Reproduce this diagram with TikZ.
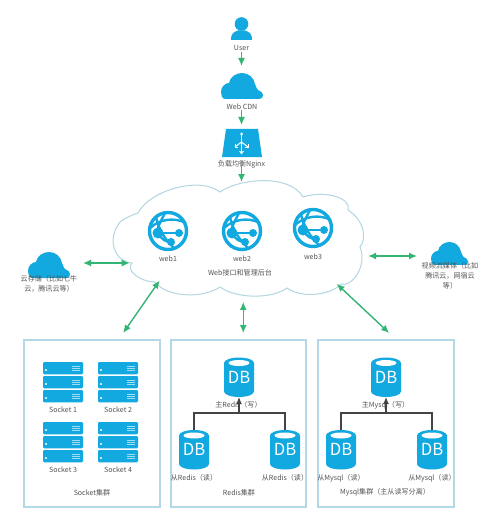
\documentclass[tikz,border=0pt]{standalone}
\usepackage{fontspec}
\setmainfont{Noto Sans CJK SC}
\usetikzlibrary{arrows.meta,shapes.geometric}
\definecolor{iconblue}{HTML}{12A8E0}
\definecolor{arrowgreen}{HTML}{33B573}
\definecolor{frameblue}{HTML}{B4D8E8}
\definecolor{cloudline}{HTML}{B2D6E2}
\definecolor{labelgrey}{HTML}{555555}
\definecolor{linkgrey}{HTML}{444444}
\def\px{0.75pt}
\tikzset{
  hit/.style={draw=none,fill=none,inner sep=0pt,outer sep=0pt},
  lbl/.style={text=labelgrey,font=\fontsize{5.3}{7.3}\selectfont,inner sep=0pt,align=center},
  oneway/.style={draw=arrowgreen,line width=1.4*\px,-{Latex[length=8*\px,width=7*\px]}},
  twoway/.style={draw=arrowgreen,line width=1.4*\px,{Latex[length=8*\px,width=7*\px]}-{Latex[length=8*\px,width=7*\px]}},
  frame/.style={draw=frameblue,line width=1.2*\px,inner sep=0pt,outer sep=7*\px},
  tree/.style={draw=linkgrey,line width=1.2*\px},
  treeup/.style={draw=linkgrey,line width=1.2*\px,-{Latex[length=7*\px,width=6*\px]}},
}
% cloud icon: #1,#2 top-left, #3 scale (1 = 42 x 26 px)
\newcommand\cloudicon[3]{%
  \begin{scope}[shift={(#1,#2)},scale=#3]
    \fill[iconblue] (4,26) .. controls (1,26) and (0,22) .. (0,19)
      .. controls (0,14) and (4,10) .. (8,10)
      .. controls (9,4) and (15,0) .. (21,0)
      .. controls (28,0) and (33,5) .. (34,11)
      .. controls (35,14) and (36,16) .. (37,17)
      .. controls (40,18) and (42,20) .. (42,22)
      .. controls (42,24.5) and (41,26) .. (38,26) -- cycle;
  \end{scope}}
% globe: centre
\newcommand\globeicon[2]{%
  \begin{scope}[shift={(#1,#2)}]
    \fill[white] (0,0) circle (20);
    \draw[iconblue,line width=3.4*\px] (0,0) circle (18.5);
    \draw[iconblue,line width=2.4*\px] (-12,-14) .. controls (-10,-4) and (-4,8) .. (6,17);
    \draw[iconblue,line width=2.4*\px] (-3,-18) .. controls (-8,-8) and (-12,-2) .. (-10,2);
    \draw[iconblue,line width=2.4*\px] (-18,-3) .. controls (-8,-12) and (6,-14) .. (18,-8);
    \draw[iconblue,line width=2.4*\px] (-10,2) -- (11,2);
    \draw[iconblue,line width=2.4*\px] (-10,2) .. controls (-6,9) and (-2,11) .. (3,11);
    \fill[iconblue] (-10,2) circle (5.5);
    \fill[iconblue] (11,2) circle (4);
    \fill[iconblue] (3,11) circle (4);
  \end{scope}}
% server stack: top-left
\newcommand\serverunit[2]{%
  \fill[iconblue,rounded corners=1.2*\px] (#1,#2) rectangle ++(40,12.3);
  \fill[white] (#1+3,#2+8) circle (1.1);
  \fill[white,opacity=.6] (#1+28.5,#2+3.5) rectangle ++(8.5,1.2);
  \fill[white,opacity=.6] (#1+28.5,#2+5.8) rectangle ++(8.5,1.2);
  \fill[white,opacity=.6] (#1+28.5,#2+8.1) rectangle ++(8.5,1.2);}
\newcommand\serverstack[2]{%
  \serverunit{#1}{#2}\serverunit{#1}{#2+14}\serverunit{#1}{#2+28}}
% database: node name, centre x, top y
\newcommand\dbnode[3]{%
  \fill[iconblue] (#2-15,#3+5.5) -- (#2-15,#3+34) arc[start angle=180,end angle=0,x radius=15,y radius=5.5]
     -- (#2+15,#3+5.5) arc[start angle=0,end angle=-180,x radius=15,y radius=5.5] -- cycle;
  \fill[white] (#2,#3+5.5) ellipse (10.5 and 3);
  \node[hit,minimum width=30*\px,minimum height=39.5*\px,text=white,font=\fontsize{12.5}{14}\selectfont] (#1) at (#2,#3+19.75) {\raisebox{-3pt}{DB}};}

\begin{document}
\begin{tikzpicture}[x=0.75pt,y=-0.75pt]
\useasboundingbox (0,0) rectangle (500,524);
\fill[white] (0,0) rectangle (500,524);

% big cloud outline
\draw[cloudline,line width=1*\px,fill=white]
  (138,213)
  .. controls (150,190) and (200,176) .. (220,192)
  .. controls (240,178) and (290,174) .. (303,197)
  .. controls (325,190) and (352,198) .. (348,210)
  .. controls (366,222) and (366,240) .. (360,247)
  .. controls (368,268) and (350,288) .. (341,284)
  .. controls (330,296) and (300,298) .. (287,288)
  .. controls (270,300) and (235,298) .. (220,287)
  .. controls (200,300) and (165,296) .. (155,282)
  .. controls (140,282) and (125,270) .. (132,263)
  .. controls (115,262) and (106,240) .. (120,222)
  .. controls (125,218) and (132,215) .. (138,213) -- cycle;
\node[hit,ellipse,minimum width=250*\px,minimum height=120*\px] (backend) at (247,242) {};

% user
\fill[iconblue] (241.5,24) circle (6.8);
\fill[iconblue] (231,40) .. controls (231,33) and (234,32) .. (238,30.5) -- (245,30.5)
  .. controls (249,32) and (252,33) .. (252,40) -- cycle;
\node[hit,minimum width=30*\px,minimum height=37*\px] (user) at (241.5,33.5) {};
\node[lbl] (userlbl) at (241.5,48) {User};

% CDN
\cloudicon{221}{73}{1}
\node[hit,minimum width=42*\px,minimum height=44*\px] (cdn) at (241.5,88) {};
\node[lbl] (cdnlbl) at (242,107) {Web CDN};

% nginx
\fill[iconblue] (226,129) -- (258,129) -- (262,157) -- (222,157) -- cycle;
\draw[white,line width=1*\px] (241.5,134) -- (241.5,153);
\draw[white,line width=1*\px] (235,147) -- (241.5,142) -- (248,147);
\fill[white] (241.5,134) circle (1.5);
\draw[white,line width=1*\px] (235,144.5) -- (235,147.5) -- (238,147.5);
\draw[white,line width=1*\px] (248,144.5) -- (248,147.5) -- (245,147.5);
\draw[white,line width=1*\px] (239.5,151) -- (241.5,153.5) -- (243.5,151);
\node[hit,minimum width=44*\px,minimum height=40*\px] (nginx) at (241.5,145) {};
\node[lbl] (nginxlbl) at (241.5,164) {负载均衡Nginx};

% web nodes
\globeicon{168}{231}
\globeicon{242}{231}
\globeicon{313}{228}
\node[hit,minimum size=40*\px] (web1) at (168,231) {};
\node[hit,minimum size=40*\px] (web2) at (242,231) {};
\node[hit,minimum size=40*\px] (web3) at (313,228) {};
\node[lbl] (web1lbl) at (168,259) {web1};
\node[lbl] (web2lbl) at (242,259) {web2};
\node[lbl] (web3lbl) at (313,257) {web3};
\node[lbl] (backendlbl) at (240,273) {Web接口和管理后台};

% side clouds
\cloudicon{28}{252}{1}
\node[hit,minimum width=65*\px,minimum height=50*\px] (store) at (50.5,263) {};
\node[lbl] (storelbl) at (49,284) {云存储（比如七牛\\云，腾讯云等）};
\cloudicon{431}{242}{0.88}
\node[hit,minimum width=66*\px,minimum height=50*\px] (media) at (450,256) {};
\node[lbl] (medialbl) at (450,276) {视频流媒体（比如\\腾讯云，网宿云\\等）};

% cluster frames
\node[frame,minimum width=136*\px,minimum height=167*\px] (sockbox) at (92,423.5) {};
\node[frame,minimum width=135*\px,minimum height=167*\px] (redisbox) at (238.5,423.5) {};
\node[frame,minimum width=136*\px,minimum height=167*\px] (mysqlbox) at (386,423.5) {};

% sockets
\serverstack{43}{362}
\serverstack{98}{362}
\serverstack{43}{422}
\serverstack{98}{422}
\node[lbl] (s1) at (63,410) {Socket 1};
\node[lbl] (s2) at (118,410) {Socket 2};
\node[lbl] (s3) at (63,470) {Socket 3};
\node[lbl] (s4) at (118,470) {Socket 4};
\node[lbl] (sockttl) at (92,492.5) {Socket集群};

% redis
\node[lbl] (rmlbl) at (238.5,405) {主Redis（写）};
\node[lbl] (rl1) at (194,478) {从Redis（读）};
\node[lbl] (rl2) at (285,478) {从Redis（读）};
\node[lbl] (redisttl) at (239,492.5) {Redis集群};
\dbnode{rm}{239}{357.5}
\dbnode{rsa}{194}{430}
\dbnode{rsb}{285}{430}
\coordinate (rjoin) at (239,413);
\draw[tree] (rsa.north) |- (rjoin);
\draw[tree] (rsb.north) |- (rjoin);
\draw[treeup] (rjoin) -- (rm.south);

% mysql
\node[lbl] (mmlbl) at (385.5,405) {主Mysql（写）};
\node[lbl] (ml1) at (341,478) {从Mysql（读）};
\node[lbl] (ml2) at (432,478) {从Mysql（读）};
\node[lbl] (mysqlttl) at (385,492.5) {Mysql集群（主从读写分离）};
\dbnode{mm}{386}{357.5}
\dbnode{msa}{341}{430}
\dbnode{msb}{432}{430}
\coordinate (mjoin) at (386,413);
\draw[tree] (msa.north) |- (mjoin);
\draw[tree] (msb.north) |- (mjoin);
\draw[treeup] (mjoin) -- (mm.south);

% green connectors
\draw[oneway] (user.south) -- (cdn.north);
\draw[oneway] (cdn.south) -- (nginx.north);
\draw[oneway] (nginx.south) -- (nginx.south |- backend.north);
\draw[twoway] (store.east) -- (store.east -| backend.190);
\draw[twoway] (media.west) -- (media.west -| backend.353.5);
\draw[twoway,shorten >=-4*\px] (sockbox.71) -- (backend.205.6);
\draw[twoway] (redisbox.87.8) -- (redisbox.87.8 |- backend.265);
\draw[twoway] (mysqlbox.88.7) -- (backend.335.7);
\end{tikzpicture}
\end{document}
